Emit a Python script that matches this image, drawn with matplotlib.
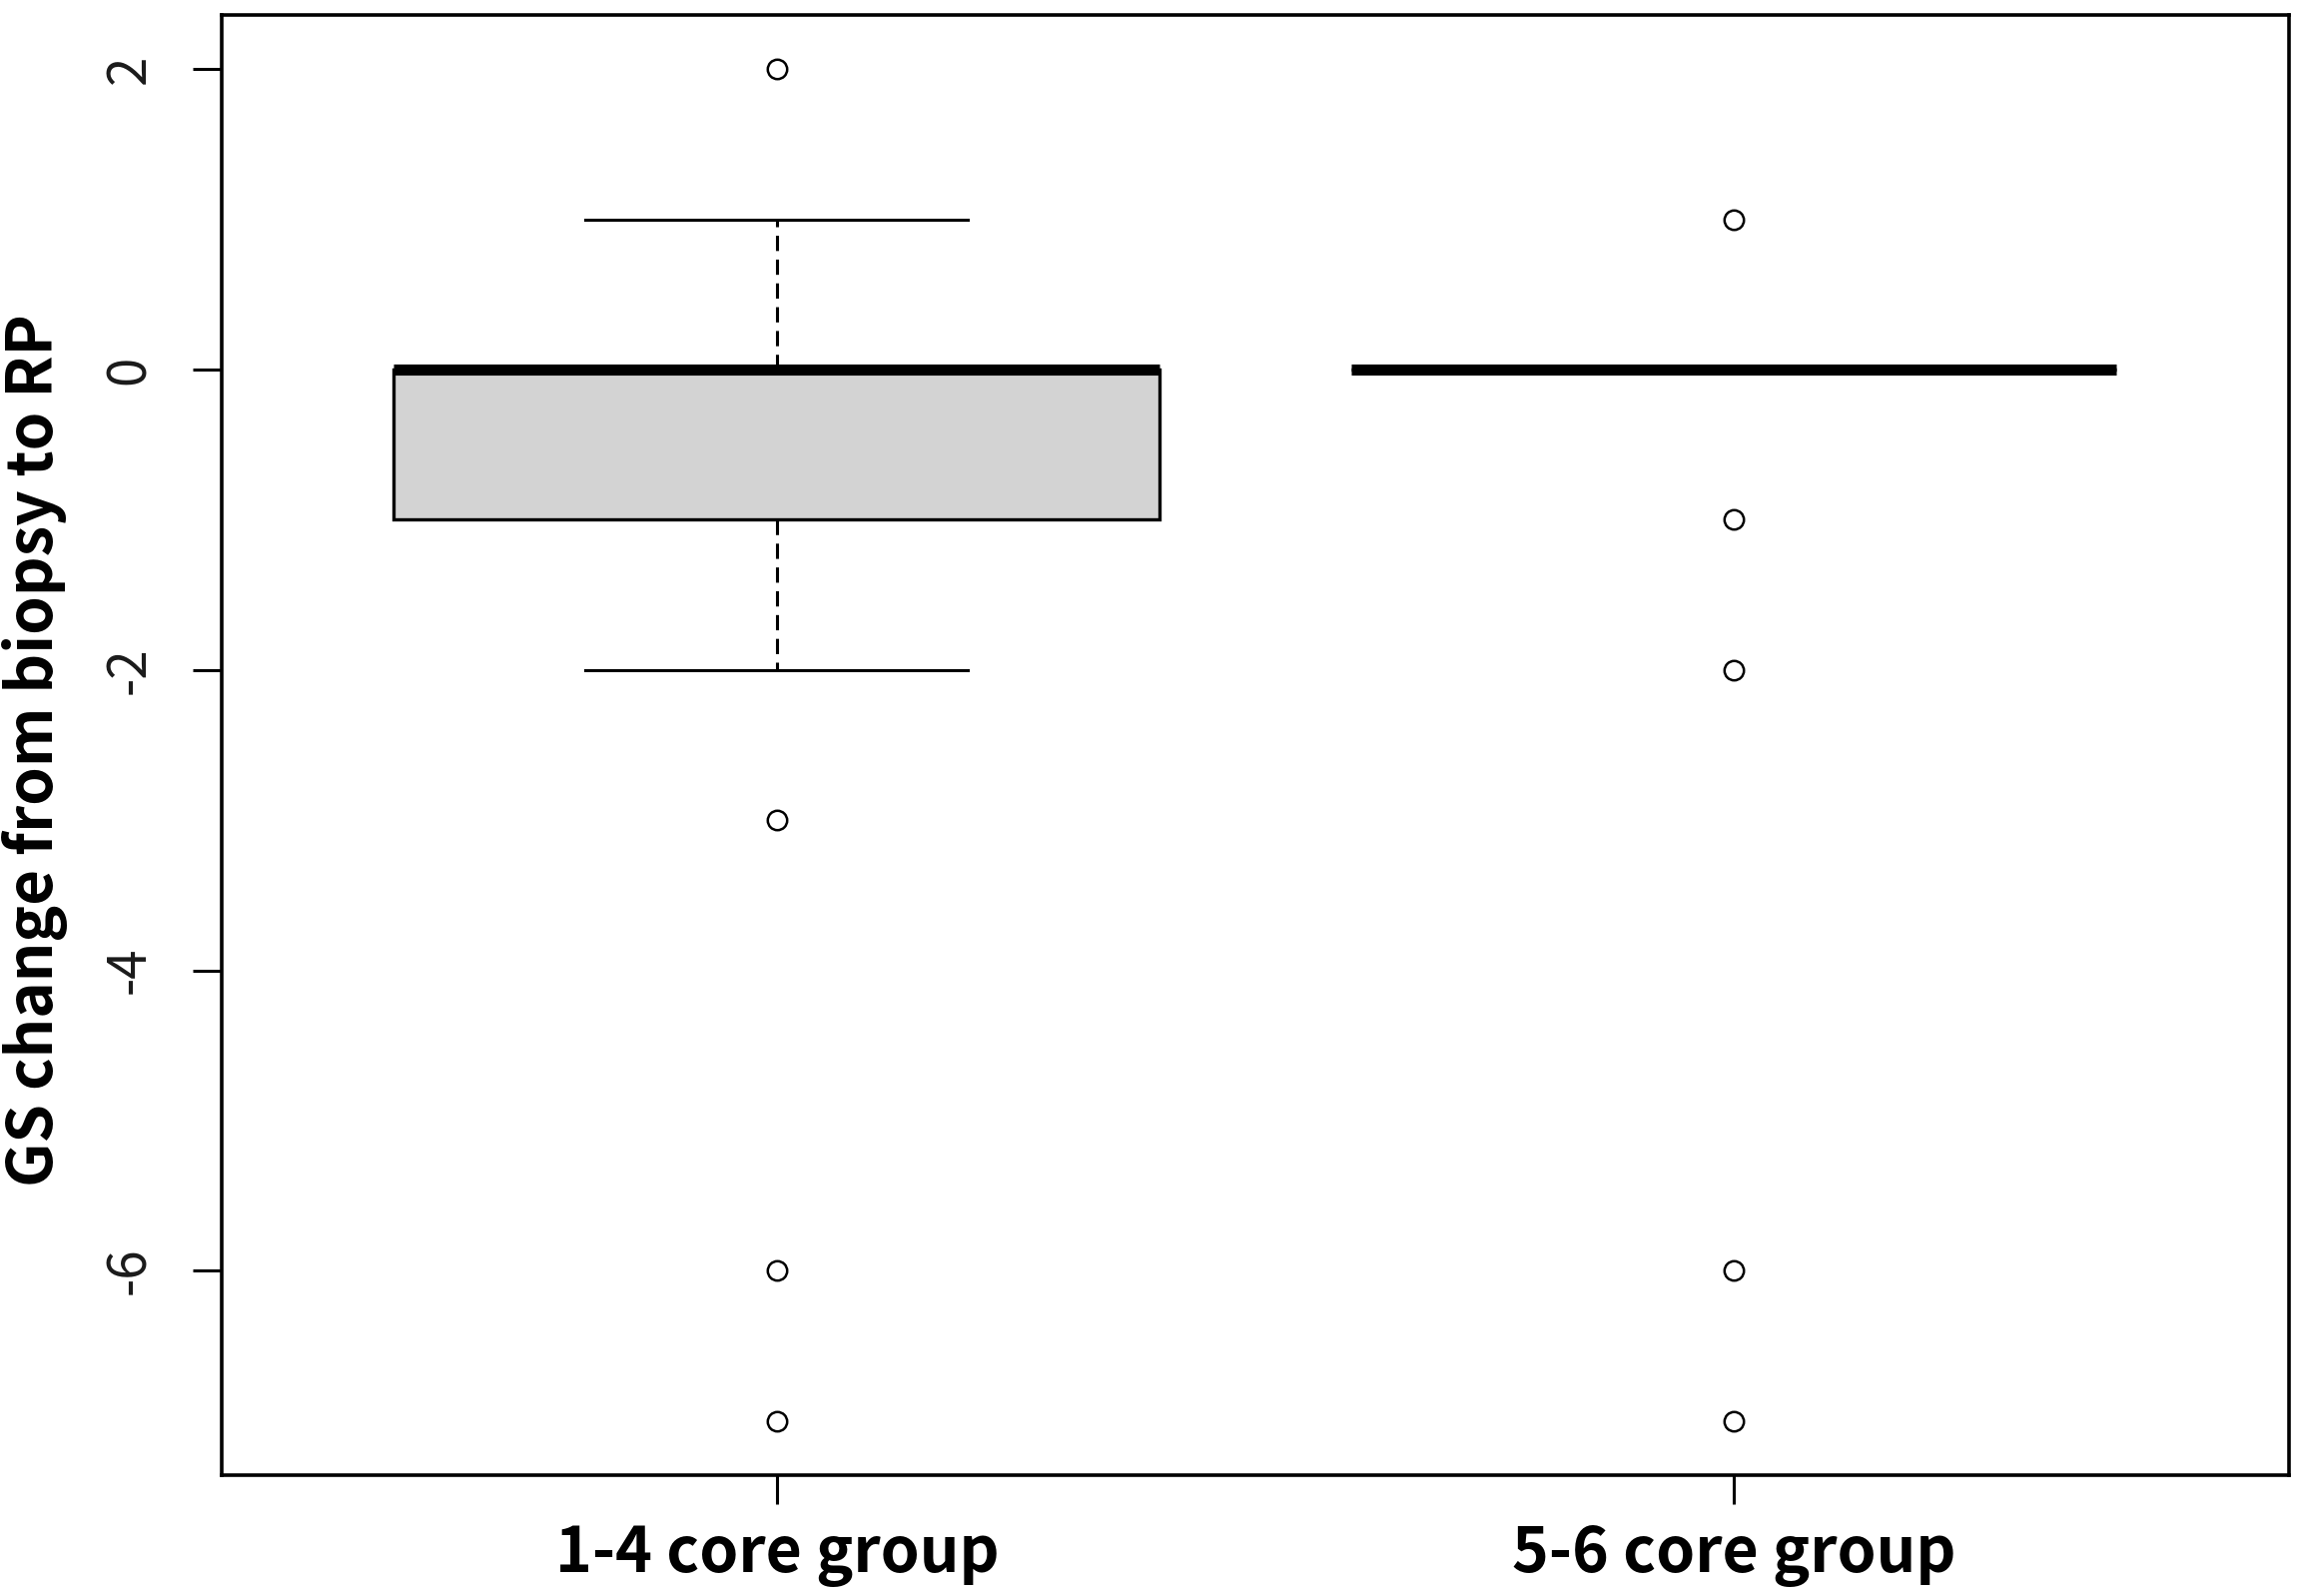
"""
Box plot of Gleason score change from biopsy to radical prostatectomy,
split by number of positive cores.
"""

import matplotlib
matplotlib.use('Agg')
import matplotlib.pyplot as plt

# Summary values (one entry per group)
groups = ['1-4 core group', '5-6 core group']
whisker_low = [-2, 0]
q1 = [-1, 0]
medians = [0, 0]
q3 = [0, 0]
whisker_high = [1, 0]
outliers = [[2, -3, -6, -7], [1, -1, -2, -6, -7]]
y_ticks = [2, 0, -2, -4, -6]

plt.rcParams['font.family'] = ['Noto Sans CJK KR', 'DejaVu Sans']

fig = plt.figure(figsize=(23.03, 15.98), dpi=100)
ax = fig.add_axes([222 / 2303, 1 - 1477 / 1598, 2070 / 2303, 1462 / 1598])

stats = []
for i, name in enumerate(groups):
    stats.append({
        'label': name,
        'whislo': whisker_low[i],
        'q1': q1[i],
        'med': medians[i],
        'q3': q3[i],
        'whishi': whisker_high[i],
        'fliers': outliers[i],
    })

ax.bxp(
    stats,
    positions=[1, 2],
    widths=0.8,
    patch_artist=True,
    boxprops=dict(facecolor='#d3d3d3', edgecolor='black', linewidth=2.4),
    medianprops=dict(color='black', linewidth=8, solid_capstyle='butt'),
    whiskerprops=dict(color='black', linewidth=2.2, linestyle=(0, (5, 2.8))),
    capprops=dict(color='black', linewidth=2.2),
    capwidths=0.4,
    flierprops=dict(marker='o', markersize=14, markerfacecolor='none',
                    markeredgecolor='black', markeredgewidth=1.8),
)

ax.set_xlim(0.42, 2.58)
ax.set_ylim(-7.36, 2.36)

ax.set_yticks(y_ticks)
ax.set_yticklabels([str(t) for t in y_ticks], rotation=90, va='center',
                   fontsize=38, color='#1a1a1a')
ax.set_xticks([1, 2])
ax.set_xticklabels(groups, fontsize=45, fontweight='bold')

ax.tick_params(axis='y', length=21, width=2.2, pad=26)
ax.tick_params(axis='x', length=21, width=2.2, pad=14)

for spine in ax.spines.values():
    spine.set_linewidth(2.6)

ax.set_ylabel('GS change from biopsy to RP', fontsize=44.5, fontweight='bold',
              va='center')
ax.yaxis.set_label_coords((35 - 222) / 2070, (1477 - 751) / 1462)

fig.savefig('out.png', dpi=100)
